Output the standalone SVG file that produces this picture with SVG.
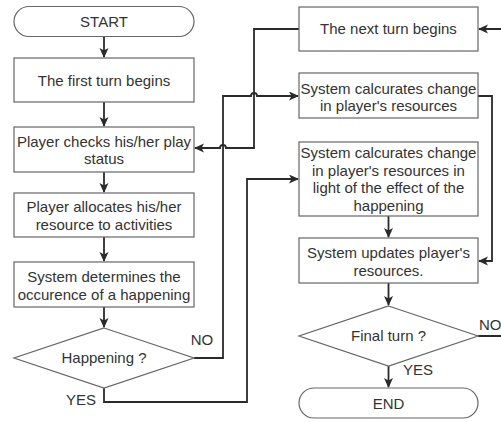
<svg xmlns="http://www.w3.org/2000/svg" width="501" height="422" viewBox="0 0 501 422">
<style>
.n{fill:#fff;stroke:#666;stroke-width:1.2}
.t{font-family:"Liberation Sans",Arial,sans-serif;font-size:15px;fill:#333;text-anchor:middle}
.l{font-family:"Liberation Sans",Arial,sans-serif;font-size:15px;fill:#333}
.c{fill:none;stroke:#2a2a2a;stroke-width:1.8}
</style>
<defs>
<marker id="a" markerUnits="userSpaceOnUse" markerWidth="12" markerHeight="10" refX="9" refY="4.5" orient="auto">
<path d="M0,0 L10,4.5 L0,9 L2.5,4.5 z" fill="#2a2a2a"/>
</marker>
</defs>
<rect width="501" height="422" fill="#fff"/>
<g id="connectors">
<path class="c" d="M104,36.5 V57" marker-end="url(#a)"/>
<path class="c" d="M104,102 V126" marker-end="url(#a)"/>
<path class="c" d="M104,172 V192" marker-end="url(#a)"/>
<path class="c" d="M104,237 V261" marker-end="url(#a)"/>
<path class="c" d="M104,307 V327" marker-end="url(#a)"/>
<path class="c" d="M194,358 H223 V96 H251 A3,3 0 0 1 257,96 H298" marker-end="url(#a)"/>
<path class="c" d="M104,388 V402 H247 V179 H298" marker-end="url(#a)"/>
<path class="c" d="M299,29 H254 V148 H226 A3,3 0 0 0 220,148 H195" marker-end="url(#a)"/>
<path class="c" d="M478,96 H492 V261 H479" marker-end="url(#a)"/>
<path class="c" d="M388.5,216 V237" marker-end="url(#a)"/>
<path class="c" d="M388.5,283 V305" marker-end="url(#a)"/>
<path class="c" d="M388.5,366 V387" marker-end="url(#a)"/>
<path class="c" d="M478,336 H512 V29 H479" marker-end="url(#a)"/>
</g>
<g id="start"><rect class="n" x="14" y="6.5" width="180" height="30" rx="15"/><text class="t" x="104" y="27">START</text></g>
<g id="first-turn"><rect class="n" x="14" y="58" width="180" height="44"/><text class="t" x="104" y="86">The first turn begins</text></g>
<g id="check-status"><rect class="n" x="14" y="127" width="180" height="45"/><text class="t" x="104" y="147">Player checks his/her play</text><text class="t" x="104" y="164">status</text></g>
<g id="allocate"><rect class="n" x="14" y="193" width="180" height="44"/><text class="t" x="104" y="212">Player allocates his/her</text><text class="t" x="104" y="229.5">resource to activities</text></g>
<g id="determine"><rect class="n" x="14" y="262" width="180" height="45"/><text class="t" x="104" y="282">System determines the</text><text class="t" x="104" y="299.5">occurence of a happening</text></g>
<g id="happening"><path class="n" d="M104,328 L194,358 L104,388 L14,358 Z"/><text class="t" x="104" y="363">Happening ?</text></g>
<g id="next-turn"><rect class="n" x="299" y="7" width="179" height="44"/><text class="t" x="388.5" y="34">The next turn begins</text></g>
<g id="calc1"><rect class="n" x="299" y="73" width="179" height="45"/><text class="t" x="388.5" y="93.5">System calcurates change</text><text class="t" x="388.5" y="111">in player's resources</text></g>
<g id="calc2"><rect class="n" x="299" y="142" width="179" height="74"/><text class="t" x="388.5" y="158">System calcurates change</text><text class="t" x="388.5" y="175.5">in player's resources in</text><text class="t" x="388.5" y="193">light of the effect of the</text><text class="t" x="388.5" y="210.5">happening</text></g>
<g id="update"><rect class="n" x="299" y="238" width="179" height="45"/><text class="t" x="388.5" y="258">System updates player's</text><text class="t" x="388.5" y="275.5">resources.</text></g>
<g id="final-turn"><path class="n" d="M388.5,306 L478,336 L388.5,366 L299,336 Z"/><text class="t" x="388.5" y="341">Final turn ?</text></g>
<g id="end"><rect class="n" x="299" y="388" width="179" height="30" rx="15"/><text class="t" x="388.5" y="408.5">END</text></g>
<g id="labels">
<text class="t" x="202" y="345">NO</text>
<text class="t" x="81" y="405">YES</text>
<text class="l" x="479" y="330">NO</text>
<text class="l" x="403" y="375">YES</text>
</g>
</svg>
